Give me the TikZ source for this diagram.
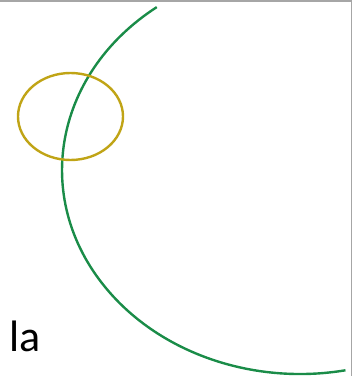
\documentclass[tikz,border=0pt]{standalone}
\usepackage{fontspec}
\setmainfont{Carlito}
\definecolor{arcgreen}{RGB}{26,140,72}
\definecolor{ringgold}{RGB}{192,164,22}
\begin{document}
\begin{tikzpicture}[x=1pt,y=1pt]
    \useasboundingbox (0,0) rectangle (354,376);

    % frame edges (top and right only)
    \draw[gray!70,line width=1.6pt] (0,375.2) -- (351.5,375.2) -- (351.5,0);

    % big green arc
    \coordinate (arcstart) at (156.8,368.9);
    \draw[arcgreen,line width=2.4pt] (arcstart)
        arc[start angle=127,end angle=281,x radius=238,y radius=204];

    % small ring
    \coordinate (ringc) at (70.5,259.5);
    \draw[ringgold,line width=2.4pt] (ringc) ellipse[x radius=52.5,y radius=43.5];

    \node[anchor=base west,inner sep=0pt,font=\fontsize{44}{44}\selectfont] (lbl) at (9,24) {la};
\end{tikzpicture}
\end{document}
